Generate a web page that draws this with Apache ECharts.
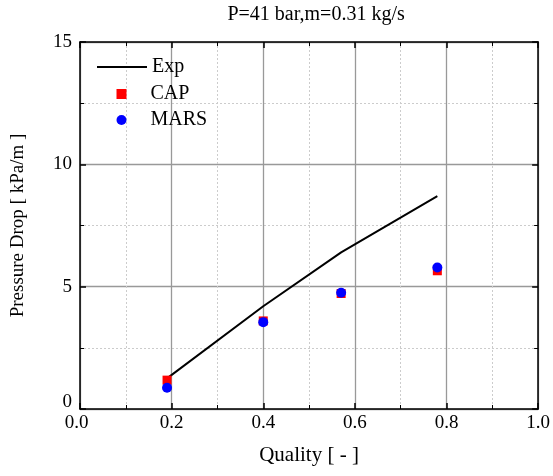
<!DOCTYPE html>
<html><head><meta charset="utf-8">
<script src="https://cdn.jsdelivr.net/npm/echarts@6/dist/echarts.min.js"></script>
<style>html,body{margin:0;padding:0;background:#fff}#c{width:553px;height:476px}</style>
</head><body><div id="c"></div>
<script>
var quality = [0.19, 0.40, 0.57, 0.78];
var expVals = [1.25, 4.2, 6.4, 8.7];
var capVals = [1.18, 3.6, 4.72, 5.65];
var marsVals = [0.87, 3.55, 4.75, 5.78];
var xTicks = ['0.0','0.2','0.4','0.6','0.8','1.0'];
var yTicks = ['0','5','10','15'];
var titleText = 'P=41 bar,m=0.31 kg/s';

function pairs(xs, ys){ return xs.map(function(x,i){return [x, ys[i]];}); }
var F = 'Liberation Serif';
var chart = echarts.init(document.getElementById('c'));
var gridX = {
  min:0, max:1, interval:0.2,
  axisLine:{onZero:false, lineStyle:{color:'#000', width:1.5}},
  axisTick:{inside:true, length:6, lineStyle:{color:'#000', width:1.5}},
  minorTick:{show:true, splitNumber:2, length:4, lineStyle:{color:'#000', width:1}},
  splitLine:{show:true, lineStyle:{color:'#999', width:1.3}},
  minorSplitLine:{show:true, lineStyle:{color:'#ccc', width:1, type:[2,2]}}
};
var gridY = {
  min:0, max:15, interval:5,
  axisLine:{onZero:false, lineStyle:{color:'#000', width:1.5}},
  axisTick:{inside:true, length:6, lineStyle:{color:'#000', width:1.5}},
  minorTick:{show:true, splitNumber:2, length:4, lineStyle:{color:'#000', width:1}},
  splitLine:{show:true, lineStyle:{color:'#999', width:1.3}},
  minorSplitLine:{show:true, lineStyle:{color:'#ccc', width:1, type:[2,2]}}
};
var legTxt = {fontFamily:F, fontSize:20, color:'#000', lineHeight:20};
chart.setOption({
  animation:false,
  textStyle:{fontFamily:F},
  grid:{left:80, right:14, top:42, bottom:67},
  legend:[
    {orient:'vertical', left:91, top:52, padding:5, itemWidth:50, itemHeight:10, itemGap:6,
     textStyle:legTxt,
     data:[{name:'Exp', itemStyle:{opacity:0}}]},
    {orient:'vertical', left:111.5, top:79, padding:5, itemWidth:10, itemHeight:10, itemGap:6,
     textStyle:Object.assign({}, legTxt, {padding:[0,0,0,19]}),
     data:[{name:'CAP', icon:'rect'},{name:'MARS', icon:'circle'}]}
  ],
  xAxis:[
    Object.assign({}, gridX, {type:'value', position:'bottom',
      name:'Quality [ - ]', nameLocation:'middle', nameGap:36,
      nameTextStyle:{fontFamily:F, fontSize:21, color:'#000'},
      axisLabel:{fontFamily:F, fontSize:19, color:'#000', margin:5,
        formatter:function(v){ var t=xTicks[Math.round(v/0.2)]; return v===0 ? '{z|'+t+'}' : t; },
        rich:{z:{fontFamily:F, fontSize:19, color:'#000', padding:[0,7,0,0]}}}}),
    Object.assign({}, gridX, {type:'value', position:'top',
      name:titleText, nameLocation:'middle', nameGap:17,
      nameTextStyle:{fontFamily:F, fontSize:20, color:'#000', padding:[0,0,0,14]},
      axisLabel:{show:false}, splitLine:{show:false}, minorSplitLine:{show:false}})
  ],
  yAxis:[
    Object.assign({}, gridY, {type:'value', position:'left',
      name:'Pressure Drop [ kPa/m ]', nameLocation:'middle', nameGap:52,
      nameTextStyle:{fontFamily:F, fontSize:19, color:'#000'},
      axisLabel:{fontFamily:F, fontSize:19, color:'#000', margin:8,
        formatter:function(v){ var t=yTicks[Math.round(v/5)]; return v===0 ? '{z|'+t+'}' : t; },
        rich:{z:{fontFamily:F, fontSize:19, color:'#000', padding:[0,0,14,0]}}}}),
    Object.assign({}, gridY, {type:'value', position:'right',
      axisLabel:{show:false}, splitLine:{show:false}, minorSplitLine:{show:false}})
  ],
  series:[
    {name:'Exp', type:'line', xAxisIndex:0, yAxisIndex:0, data:pairs(quality, expVals),
      showSymbol:false, symbol:'none', lineStyle:{color:'#000', width:2}, itemStyle:{color:'#000'}, z:3},
    {name:'CAP', type:'scatter', xAxisIndex:0, yAxisIndex:0, data:pairs(quality, capVals),
      symbol:'rect', symbolSize:9, itemStyle:{color:'#ff0000', opacity:1}, z:4},
    {name:'MARS', type:'scatter', xAxisIndex:0, yAxisIndex:0, data:pairs(quality, marsVals),
      symbol:'circle', symbolSize:10, itemStyle:{color:'#0000ff', opacity:1}, z:5}
  ]
});
</script></body></html>
